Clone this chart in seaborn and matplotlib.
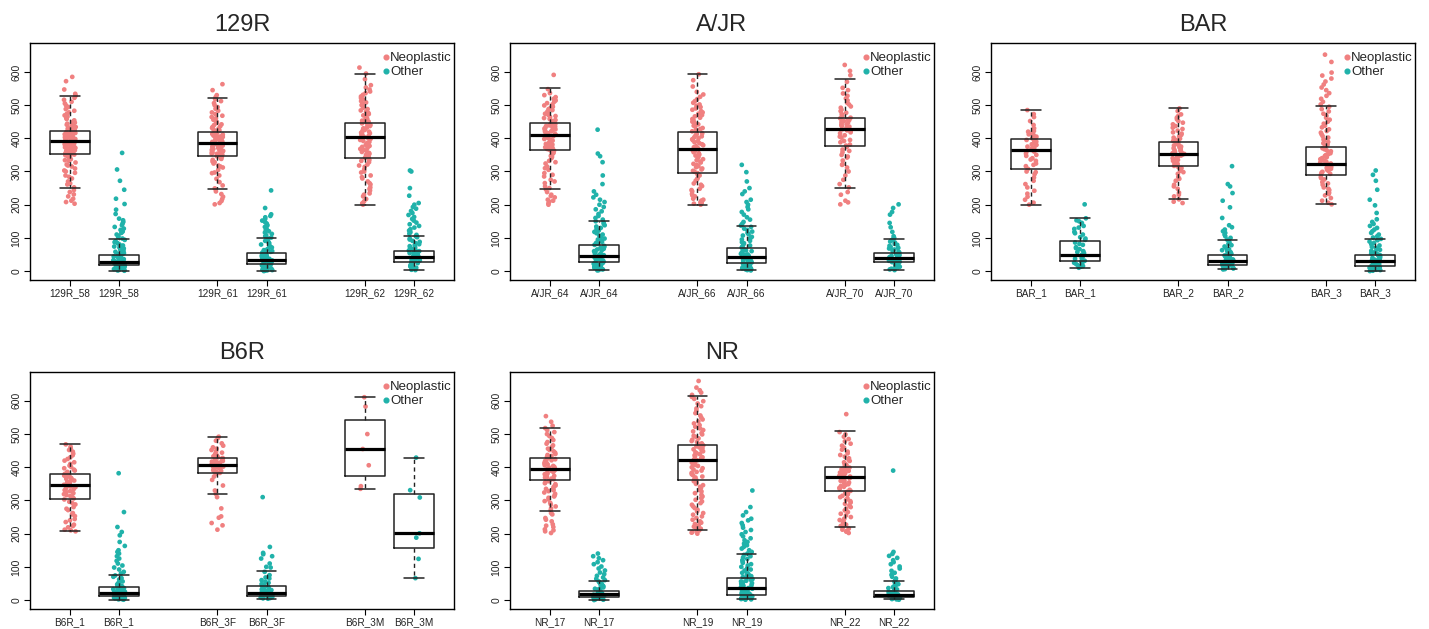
import numpy as np
import pandas as pd
import matplotlib
matplotlib.use("Agg")
import matplotlib.pyplot as plt
from matplotlib.lines import Line2D
import seaborn as sns

sns.set_theme(style="white")
plt.rcParams['font.family'] = ['Liberation Sans', 'DejaVu Sans']

# cell types, alternating Neoplastic / Other for each sample
kinds = ["Neoplastic", "Other"]
colors = {"Neoplastic": "#F08080", "Other": "#20B2AA"}

# ---- 129R ----
samples_129R = ["129R_58", "129R_61", "129R_62"]
# (whisker low, q1, median, q3, whisker high)
stats_129R = [(249, 353, 392, 423, 527), (0, 17, 28, 48, 97),
              (247, 348, 387, 418, 520), (0, 20, 33, 53, 101),
              (200, 341, 405, 445, 593), (3, 26, 42, 60, 107)]
pts_129R = [
    [203, 208, 212, 218, 225, 231, 238, 244, 252, 261, 270, 279, 288, 296, 303, 309, 315, 321, 327, 332, 337, 341, 345,
     349, 353, 356, 359, 362, 365, 368, 371, 374, 377, 380, 383, 386, 389, 392, 395, 398, 401, 404, 407, 410, 413, 416,
     419, 423, 427, 431, 436, 441, 447, 454, 461, 469, 478, 488, 499, 510, 522, 534, 547, 572, 585,
     300, 318, 334, 347, 351, 355, 358, 361, 364, 367, 370, 373, 376, 379, 382, 385, 388, 391, 394, 397, 400, 403, 406,
     409, 412, 415, 418, 421, 425, 429, 434, 439, 444, 450, 458, 465, 474, 483, 494, 505, 516, 528, 264, 284],
    [1, 3, 5, 7, 9, 11, 13, 15, 17, 19, 21, 23, 25, 27, 29, 31, 33, 35, 38, 41, 44, 47, 50, 54, 58, 63, 68, 74, 80, 87,
     94, 102, 110, 119, 128, 138, 148, 158, 172, 185, 202, 218, 245, 272, 306, 356,
     2, 4, 6, 8, 10, 12, 14, 16, 18, 20, 22, 24, 26, 28, 30, 32, 36, 40, 45, 52, 56, 61, 66, 71, 77, 84, 90, 98, 106,
     115, 124, 133, 143, 153],
    [201, 205, 211, 217, 224, 232, 240, 249, 258, 268, 278, 288, 297, 305, 312, 318, 324, 330, 335, 340, 344, 348, 351,
     354, 357, 360, 363, 366, 369, 372, 375, 378, 381, 384, 387, 390, 393, 396, 399, 402, 405, 408, 411, 414, 418, 422,
     426, 431, 436, 442, 449, 456, 464, 473, 483, 494, 506, 518, 530, 545, 563,
     295, 315, 328, 338, 346, 350, 353, 356, 359, 362, 365, 368, 371, 374, 377, 380, 383, 386, 389, 392, 395, 398, 401,
     404, 407, 410, 413, 416, 420, 424, 429, 434, 440, 446, 453, 460, 468, 478, 489, 500, 512, 524],
    [0, 2, 4, 7, 10, 13, 16, 19, 22, 25, 28, 31, 34, 37, 40, 43, 46, 50, 54, 58, 63, 68, 74, 80, 87, 94, 101, 108, 116,
     124, 133, 143, 152, 162, 171, 190, 243,
     1, 3, 5, 8, 11, 14, 17, 20, 23, 26, 29, 32, 35, 38, 41, 44, 48, 52, 56, 60, 65, 71, 77, 84, 91, 98, 105, 112, 120,
     128, 138, 147, 157, 166],
    [200, 204, 210, 217, 225, 234, 243, 252, 261, 270, 279, 288, 297, 306, 314, 321, 328, 335, 341, 347, 353, 359, 365,
     371, 377, 383, 389, 395, 400, 405, 410, 415, 420, 425, 430, 435, 440, 445, 450, 456, 462, 469, 476, 484, 492, 500,
     508, 517, 526, 536, 547, 560, 578, 595, 613,
     230, 248, 265, 283, 300, 318, 332, 344, 350, 356, 362, 368, 374, 380, 386, 392, 398, 402, 407, 412, 417, 422, 427,
     432, 437, 442, 447, 453, 459, 466, 473, 480, 488, 496, 504, 512, 521, 531, 541, 553],
    [3, 6, 10, 14, 18, 22, 26, 30, 34, 38, 42, 46, 50, 54, 58, 62, 67, 72, 78, 84, 91, 98, 105, 113, 122, 131, 141, 152,
     163, 175, 188, 200, 227, 250, 300, 303,
     4, 8, 12, 16, 20, 24, 28, 32, 36, 40, 44, 48, 52, 56, 60, 64, 70, 75, 81, 88, 95, 102, 109, 117, 126, 136, 146, 157,
     169, 181, 193, 205],
]

# ---- A/JR ----
samples_AJR = ["A/JR_64", "A/JR_66", "A/JR_70"]
stats_AJR = [(248, 366, 411, 446, 550), (3, 27, 46, 78, 152),
             (200, 295, 367, 420, 593), (3, 23, 41, 68, 135),
             (250, 376, 428, 460, 578), (3, 26, 38, 55, 97)]
pts_AJR = [
    [200, 204, 209, 215, 222, 230, 238, 246, 255, 265, 275, 285, 295, 305, 315, 324, 332, 340, 347, 354, 360, 366, 371,
     376, 381, 386, 391, 396, 401, 406, 411, 415, 419, 423, 427, 431, 435, 439, 443, 447, 452, 458, 464, 471, 478, 485,
     492, 499, 506, 514, 524, 536, 548, 591,
     212, 226, 250, 270, 290, 310, 328, 344, 357, 363, 368, 373, 378, 383, 388, 393, 398, 403, 408, 413, 417, 421, 425,
     429, 433, 437, 441, 445, 449, 455, 461, 467, 474, 481, 488, 495, 502, 510, 519, 530],
    [3, 6, 10, 14, 18, 22, 26, 30, 34, 38, 42, 46, 50, 55, 60, 65, 70, 76, 82, 88, 95, 102, 110, 118, 126, 134, 142, 150,
     160, 172, 186, 200, 215, 230, 240, 262, 288, 328, 346, 354, 426,
     2, 5, 8, 12, 16, 20, 24, 28, 32, 36, 40, 44, 48, 52, 57, 62, 67, 73, 79, 85, 91, 98, 106, 114, 122, 130, 138, 146,
     155, 166, 180, 193, 208, 222],
    [200, 203, 207, 212, 218, 225, 232, 240, 248, 256, 264, 272, 280, 288, 295, 302, 309, 316, 323, 330, 337, 344, 351,
     358, 364, 370, 376, 382, 388, 394, 400, 406, 412, 418, 424, 431, 438, 446, 454, 462, 470, 478, 486, 494, 502, 512,
     525, 540, 556, 575, 593,
     205, 215, 228, 244, 260, 276, 292, 299, 306, 313, 320, 327, 334, 341, 348, 355, 361, 367, 373, 379, 385, 391, 397,
     403, 409, 415, 421, 428, 435, 442, 450, 458, 466, 474, 482, 490, 498, 507, 518, 532],
    [3, 6, 9, 12, 15, 18, 21, 24, 27, 30, 34, 38, 42, 46, 50, 55, 60, 65, 71, 77, 84, 91, 99, 107, 115, 124, 133, 142,
     155, 170, 186, 200, 215, 232, 250, 270, 298, 320,
     2, 5, 8, 11, 14, 17, 20, 23, 26, 29, 32, 36, 40, 44, 48, 52, 57, 62, 68, 74, 80, 87, 95, 103, 111, 119, 128, 137,
     148, 162, 178, 193, 208, 240],
    [201, 207, 212, 230, 238, 252, 262, 275, 288, 300, 312, 322, 333, 342, 350, 358, 366, 374, 381, 388, 395, 402, 409,
     415, 421, 427, 432, 437, 442, 447, 452, 457, 462, 469, 477, 486, 496, 507, 520, 535, 552, 570, 590, 603, 621,
     320, 345, 362, 378, 392, 405, 418, 424, 430, 435, 440, 445, 450, 455, 460, 466, 473, 482, 492, 502, 514, 528, 545],
    [3, 7, 11, 15, 19, 23, 27, 30, 33, 36, 39, 42, 45, 48, 52, 56, 60, 65, 70, 76, 82, 89, 96, 105, 118, 132, 145, 170,
     178, 190, 201,
     5, 9, 13, 17, 21, 25, 28, 31, 34, 37, 40, 43, 46, 50, 54, 58, 63, 68, 73, 79, 86, 93, 100],
]

# ---- BAR ----
samples_BAR = ["BAR_1", "BAR_2", "BAR_3"]
stats_BAR = [(200, 307, 365, 397, 485), (10, 31, 47, 90, 159),
             (216, 318, 353, 389, 490), (5, 19, 30, 48, 93),
             (201, 289, 323, 373, 497), (0, 16, 29, 49, 98)]
pts_BAR = [
    [200, 206, 215, 224, 233, 242, 252, 262, 272, 282, 292, 300, 308, 316, 324, 332, 340, 347, 354, 360, 365, 370, 375,
     380, 385, 390, 395, 400, 405, 410, 416, 422, 430, 440, 452, 464, 473, 485,
     298, 320, 336, 350, 362, 372, 382, 392, 402, 412, 420],
    [10, 13, 17, 21, 25, 29, 33, 37, 41, 45, 49, 54, 60, 66, 72, 79, 86, 94, 102, 110, 118, 127, 136, 145, 153, 159, 201,
     15, 23, 31, 39, 47, 57, 69, 82, 98, 114, 131, 150],
    [205, 209, 216, 225, 236, 248, 260, 272, 283, 293, 302, 310, 317, 323, 329, 335, 340, 345, 350, 355, 360, 365, 370,
     375, 380, 386, 392, 399, 406, 414, 423, 432, 442, 452, 462, 472, 482, 490,
     230, 255, 278, 298, 313, 320, 326, 332, 338, 343, 348, 353, 358, 363, 368, 373, 378, 383, 389, 395, 402, 410, 418,
     428, 437, 447, 457, 467],
    [5, 8, 11, 14, 17, 20, 23, 26, 29, 32, 35, 39, 43, 47, 52, 57, 63, 70, 78, 86, 95, 105, 115, 125, 138, 160, 192, 212,
     235, 255, 262, 316,
     6, 9, 12, 15, 18, 21, 24, 27, 30, 33, 37, 41, 45, 50, 55, 60, 66, 74, 82, 90, 100, 110, 120, 132],
    [201, 206, 212, 220, 228, 236, 244, 252, 260, 268, 276, 283, 290, 296, 302, 308, 314, 319, 324, 329, 334, 340, 346,
     352, 358, 364, 370, 377, 385, 393, 402, 412, 422, 433, 444, 456, 468, 481, 495, 510, 528, 545, 562, 580, 598, 630,
     652,
     232, 248, 264, 280, 293, 299, 305, 311, 317, 322, 327, 332, 337, 343, 349, 355, 361, 367, 374, 381, 389, 397, 407,
     417, 427, 438, 450, 462, 474, 488, 502, 519, 536, 553, 571, 589],
    [0, 3, 6, 9, 12, 15, 18, 21, 24, 27, 30, 33, 36, 40, 44, 48, 53, 58, 64, 70, 77, 85, 93, 101, 110, 120, 130, 142, 156,
     175, 198, 215, 245, 272, 290, 303,
     1, 4, 7, 10, 13, 16, 19, 22, 25, 28, 31, 34, 38, 42, 46, 50, 55, 61, 67, 73, 81, 89, 97, 105, 115, 125, 136, 148],
]

# ---- B6R ----
samples_B6R = ["B6R_1", "B6R_3F", "B6R_3M"]
stats_B6R = [(207, 303, 347, 379, 469), (1, 13, 22, 39, 75),
             (320, 384, 406, 429, 492), (4, 12, 20, 42, 88),
             (333, 374, 455, 541, 611), (66, 156, 202, 320, 429)]
pts_B6R = [
    [207, 212, 219, 227, 235, 244, 253, 262, 271, 280, 288, 296, 303, 310, 316, 322, 328, 334, 340, 345, 350, 355, 360,
     365, 370, 375, 380, 386, 393, 401, 410, 420, 430, 441, 452, 462, 469,
     210, 223, 240, 258, 275, 292, 306, 313, 319, 325, 331, 337, 342, 347, 352, 357, 362, 367, 372, 377, 383, 390, 397,
     405, 415, 425, 436, 447, 457],
    [1, 3, 5, 7, 9, 11, 13, 15, 17, 19, 21, 23, 25, 28, 31, 34, 38, 42, 47, 53, 59, 66, 74, 85, 98, 110, 125, 140, 150,
     163, 175, 195, 205, 220, 265, 382,
     2, 4, 6, 8, 10, 12, 14, 16, 18, 20, 22, 24, 27, 30, 33, 36, 40, 45, 50, 56, 62, 70, 80, 92, 104, 118, 132, 145],
    [212, 225, 232, 248, 252, 276, 310, 320, 330, 345, 362, 372, 380, 385, 389, 393, 396, 399, 402, 405, 408, 411, 414,
     417, 420, 424, 428, 433, 440, 448, 456, 465, 472, 480, 488, 492,
     383, 387, 391, 395, 398, 401, 404, 407, 410, 413, 416, 419, 422, 426, 430, 436, 444, 452, 460],
    [4, 6, 8, 10, 12, 14, 16, 18, 20, 22, 25, 28, 32, 37, 42, 48, 55, 60, 68, 75, 85, 98, 110, 125, 132, 138, 142, 160,
     310,
     5, 7, 9, 11, 13, 15, 17, 19, 21, 24, 27, 30, 35, 40, 45, 52, 65, 100],
    [611, 583, 500, 455, 406, 343, 335],
    [429, 331, 309, 201, 188, 124, 66],
]

# ---- NR ----
samples_NR = ["NR_17", "NR_19", "NR_22"]
stats_NR = [(269, 363, 395, 428, 518), (0, 10, 18, 28, 56),
            (210, 363, 423, 466, 616), (2, 16, 36, 65, 138),
            (219, 327, 371, 401, 510), (2, 10, 16, 28, 56)]
pts_NR = [
    [202, 207, 213, 220, 228, 237, 247, 258, 270, 282, 293, 303, 312, 320, 328, 335, 342, 349, 355, 361, 366, 371, 376,
     381, 386, 391, 396, 401, 406, 411, 416, 421, 426, 431, 437, 444, 452, 461, 471, 482, 494, 506, 518, 537, 554,
     210, 224, 242, 262, 276, 288, 298, 308, 316, 324, 331, 338, 345, 352, 358, 364, 369, 374, 379, 384, 389, 394, 399,
     404, 409, 414, 419, 424, 429, 434, 440, 448, 456, 466, 476, 488, 500, 512, 525],
    [0, 2, 4, 6, 8, 10, 12, 14, 16, 18, 20, 22, 24, 27, 30, 34, 38, 43, 49, 56, 64, 73, 83, 95, 108, 120, 132, 140,
     1, 3, 5, 7, 9, 11, 13, 15, 17, 19, 21, 23, 26, 29, 32, 36, 41, 46, 52, 60, 68, 78, 89, 101, 114, 126],
    [200, 203, 207, 212, 218, 225, 233, 242, 252, 262, 272, 282, 292, 302, 312, 322, 332, 341, 350, 358, 365, 372, 379,
     386, 393, 400, 407, 414, 421, 427, 433, 439, 445, 451, 457, 463, 469, 476, 483, 491, 499, 508, 517, 527, 538, 550,
     563, 577, 592, 606, 618, 632, 640, 660,
     205, 210, 215, 221, 229, 237, 247, 257, 267, 277, 287, 297, 307, 317, 327, 337, 346, 354, 362, 369, 376, 383, 390,
     397, 404, 411, 418, 424, 430, 436, 442, 448, 454, 460, 466, 472, 479, 487, 495, 503, 512, 522, 532, 544, 556, 570,
     584, 599, 612, 625],
    [2, 4, 6, 8, 10, 12, 14, 16, 18, 21, 24, 27, 30, 33, 36, 39, 43, 47, 51, 56, 61, 66, 72, 78, 85, 92, 100, 108, 116,
     124, 132, 140, 150, 160, 170, 180, 192, 205, 218, 232, 245, 265, 280, 330,
     1, 3, 5, 7, 9, 11, 13, 15, 17, 19, 22, 25, 28, 31, 34, 37, 41, 45, 49, 53, 58, 63, 69, 75, 82, 89, 96, 104, 112,
     120, 128, 136, 145, 155, 165, 175, 186, 198, 211, 225, 240, 255],
    [202, 206, 212, 219, 227, 236, 245, 255, 265, 275, 285, 294, 302, 310, 317, 323, 329, 335, 341, 347, 352, 357, 362,
     367, 372, 377, 382, 387, 392, 397, 402, 408, 415, 423, 432, 442, 453, 465, 478, 492, 506, 560,
     208, 215, 223, 232, 241, 250, 260, 270, 280, 290, 298, 306, 314, 320, 326, 332, 338, 344, 349, 354, 359, 364, 369,
     374, 379, 384, 389, 394, 399, 405, 411, 419, 427, 437, 447, 459, 471, 485, 499],
    [2, 4, 6, 8, 10, 12, 14, 16, 18, 20, 23, 26, 30, 34, 39, 45, 52, 60, 70, 82, 95, 108, 120, 133, 145, 390,
     1, 3, 5, 7, 9, 11, 13, 15, 17, 19, 21, 25, 28, 32, 36, 42, 48, 56, 65, 76, 88, 101, 114, 127, 139],
]

panels = [("129R", samples_129R, stats_129R, pts_129R),
          ("A/JR", samples_AJR, stats_AJR, pts_AJR),
          ("BAR", samples_BAR, stats_BAR, pts_BAR),
          ("B6R", samples_B6R, stats_B6R, pts_B6R),
          ("NR", samples_NR, stats_NR, pts_NR)]

positions = [1, 2, 4, 5, 7, 8]


def draw_panel(ax, title, samples, stats, pts):
    rows = []
    for i, vals in enumerate(pts):
        for v in vals:
            rows.append((positions[i], v, kinds[i % 2]))
    df = pd.DataFrame(rows, columns=["pos", "value", "kind"])
    sns.stripplot(data=df, x="pos", y="value", hue="kind", hue_order=kinds, palette=colors,
                  native_scale=True, orient="x", jitter=0.12, size=3.4, linewidth=0,
                  legend=False, ax=ax, zorder=1)

    bstats = [dict(whislo=s[0], q1=s[1], med=s[2], q3=s[3], whishi=s[4], fliers=[]) for s in stats]
    ax.bxp(bstats, positions=positions, widths=0.8, capwidths=0.4, showfliers=False,
           manage_ticks=False, zorder=3,
           boxprops=dict(color="#222222", linewidth=1.1),
           whiskerprops=dict(color="#222222", linewidth=1.0, linestyle=(0, (3, 2.5))),
           capprops=dict(color="#222222", linewidth=1.1),
           medianprops=dict(color="black", linewidth=2.3))

    ax.set_xlim(0.19, 8.81)
    ax.set_ylim(-27, 687)
    ax.set_xticks(positions)
    ax.set_xticklabels([samples[i // 2] for i in range(6)], fontsize=7.2)
    ax.set_yticks([0, 100, 200, 300, 400, 500, 600])
    ax.set_yticklabels(["0", "100", "200", "300", "400", "500", "600"], fontsize=7.5,
                       rotation=90, va="center")
    ax.tick_params(axis="both", length=4, width=0.8, color="black", labelcolor="#222222",
                   direction="out", bottom=True, left=True, pad=2)
    ax.tick_params(axis="x", pad=1.5)
    ax.set_xlabel("")
    ax.set_ylabel("")
    for sp in ax.spines.values():
        sp.set_color("black")
        sp.set_linewidth(1.0)
    ax.set_title(title, fontsize=17, pad=9)

    handles = [Line2D([], [], marker="o", linestyle="", color=colors[k], markersize=3.4) for k in kinds]
    ax.legend(handles, kinds, loc="upper left", bbox_to_anchor=(0.834, 0.962), frameon=False,
              fontsize=9.5, handlelength=0.35, handletextpad=0.15, labelspacing=0.15,
              borderaxespad=0, borderpad=0)


fig = plt.figure(figsize=(14.29, 6.29), dpi=100)
lefts = [0.021, 0.3569, 0.6935]
bottoms = [0.5548, 0.0318]
for k, (title, samples, stats, pts) in enumerate(panels):
    r, c = divmod(k, 3)
    ax = fig.add_axes([lefts[c], bottoms[r], 0.2967, 0.3768])
    draw_panel(ax, title, samples, stats, pts)

fig.savefig("out.png", dpi=100)
